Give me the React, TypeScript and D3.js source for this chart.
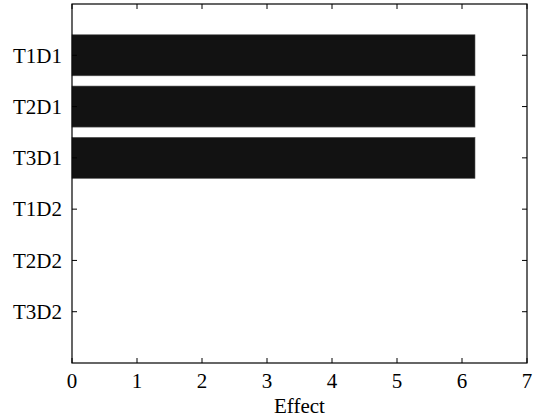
import * as d3 from "d3";
import React from "react";

const categories = ["T1D1", "T2D1", "T3D1", "T1D2", "T2D2", "T3D2"];
const effects = [6.2, 6.2, 6.2, 0, 0, 0];
const xTicks = [0, 1, 2, 3, 4, 5, 6, 7];
const xLabel = "Effect";

const App = () => {
  const svgWidth = 546;
  const svgHeight = 418;
  const margin = { top: 4, right: 19, bottom: 55, left: 72 };
  const w = svgWidth - (margin.left + margin.right);
  const h = svgHeight - (margin.top + margin.bottom);

  const x = d3.scaleLinear().domain([0, 7]).range([0, w]);
  // slots 0..7, categories sit at 1..6 like a matlab barh
  const y = d3.scaleLinear().domain([0, 7]).range([0, h]);
  const barH = y(0.8) - y(0);
  const tick = 5;
  const textStyle = {
    fontFamily: "'Liberation Serif', 'Times New Roman', Times, 'DejaVu Serif', serif",
    fontSize: "21px",
  };

  return (
    <svg
      width={svgWidth}
      height={svgHeight}
      style={{ position: "absolute", left: 0, top: 0, background: "#fff" }}
    >
      <g transform={`translate(${margin.left},${margin.top})`} style={textStyle}>
        {categories.map((c, i) => (
          <rect
            key={c}
            x={x(0)}
            y={y(i + 1) - barH / 2}
            width={Math.max(0, x(effects[i]) - x(0))}
            height={barH}
            fill="#121212"
            stroke={effects[i] > 0 ? "#555" : "#222"}
            strokeWidth={0.6}
          />
        ))}

        {xTicks.map((t) => (
          <g key={t}>
            <line x1={x(t)} x2={x(t)} y1={h} y2={h - tick} stroke="#000" />
            <line x1={x(t)} x2={x(t)} y1={0} y2={tick} stroke="#000" />
            <text x={x(t)} y={h + 25} textAnchor="middle" fill="#000" style={textStyle}>
              {t}
            </text>
          </g>
        ))}

        {categories.map((c, i) => (
          <g key={c}>
            <line x1={0} x2={tick} y1={y(i + 1)} y2={y(i + 1)} stroke="#000" />
            <line x1={w} x2={w - tick} y1={y(i + 1)} y2={y(i + 1)} stroke="#000" />
            <text
              x={-10}
              y={y(i + 1)}
              dy="0.35em"
              textAnchor="end"
              fill="#000"
              style={textStyle}
            >
              {c}
            </text>
          </g>
        ))}

        <rect x={0} y={0} width={w} height={h} fill="none" stroke="#000" strokeWidth={1.2} />

        <text x={w / 2} y={h + 50} textAnchor="middle" fill="#000" style={textStyle}>
          {xLabel}
        </text>
      </g>
    </svg>
  );
};

export default App;
